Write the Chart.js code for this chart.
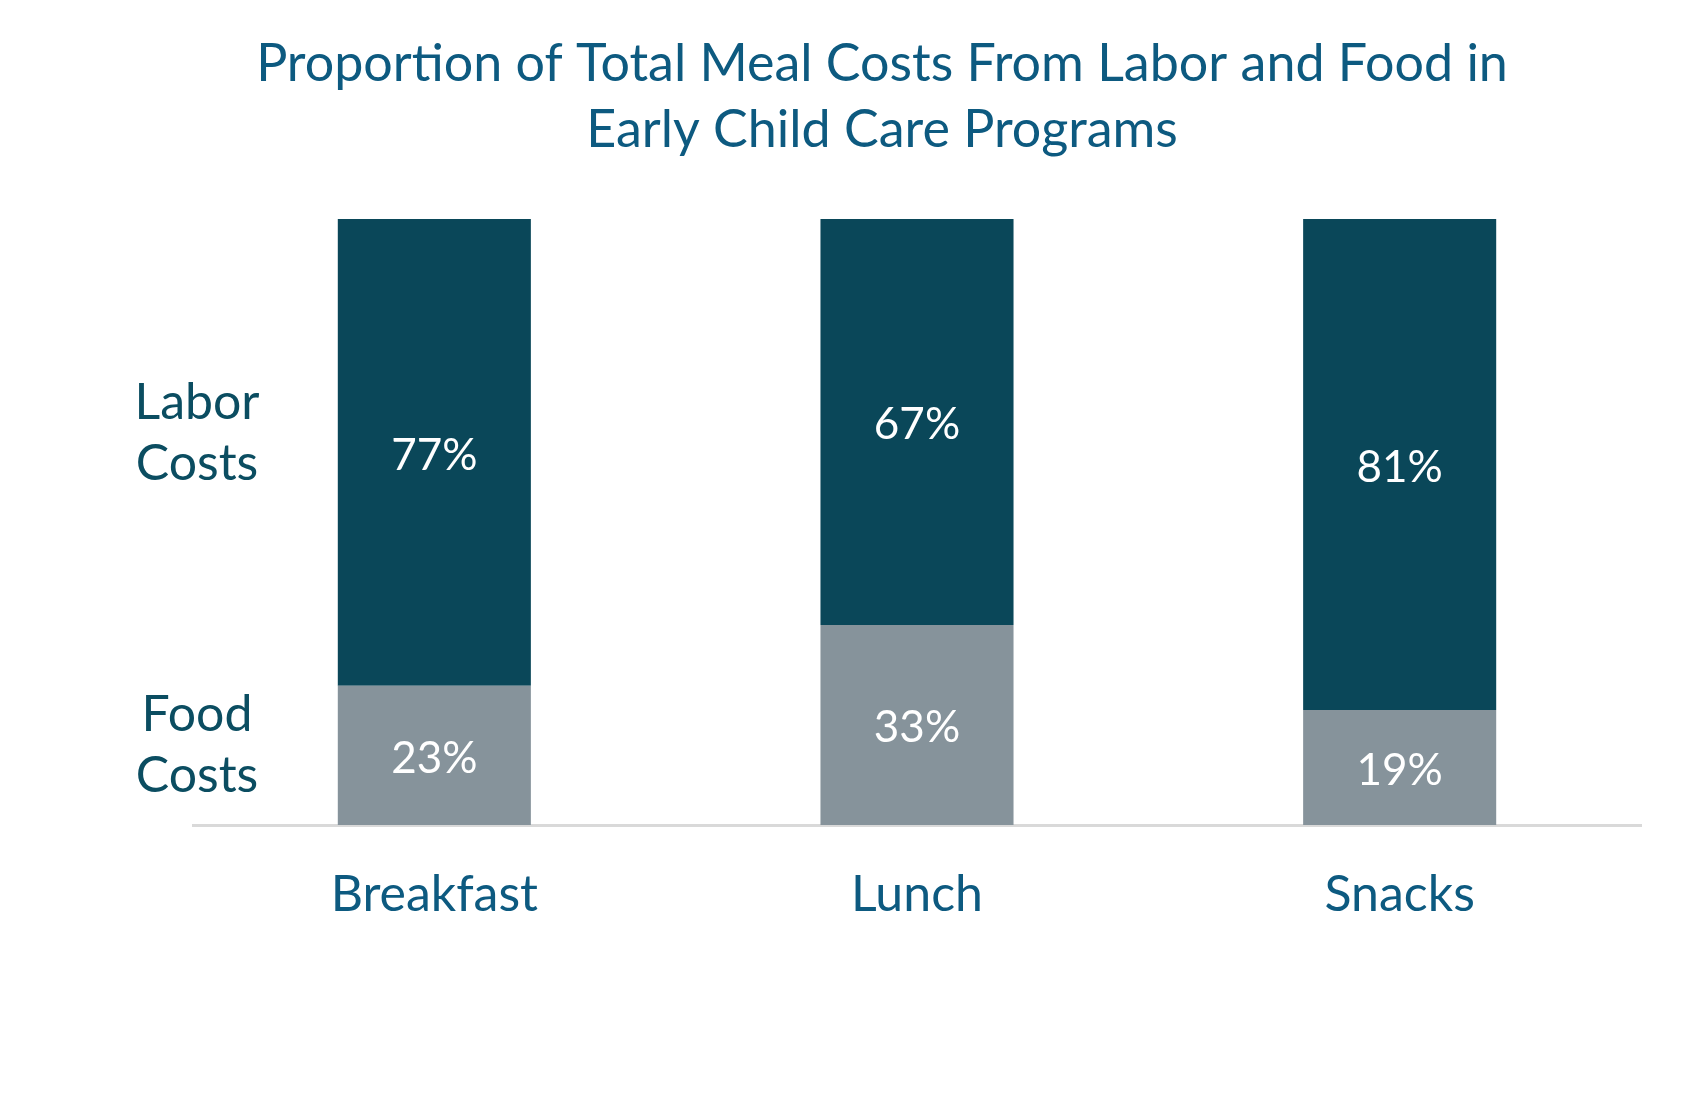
<!DOCTYPE html>
<html>
<head>
<meta charset="utf-8">
<title>Meal costs</title>
<script src="https://cdn.jsdelivr.net/npm/chart.js@4.4.1/dist/chart.umd.min.js"></script>
<style>
  html, body { margin: 0; padding: 0; background: #ffffff; }
  #wrap { width: 1705px; height: 1094px; position: relative; }
</style>
</head>
<body>
<div id="wrap"><canvas id="chart-meals"></canvas></div>
<script>
// chart data
const meals = ['Breakfast', 'Lunch', 'Snacks'];
const foodShare = [23, 33, 19];
const laborShare = [77, 67, 81];
const seriesNames = [['Food', 'Costs'], ['Labor', 'Costs']];

const FONT = 'Lato, "Open Sans", sans-serif';

// white % labels inside each segment + the two series names on the left
const segmentLabels = {
  id: 'segmentLabels',
  afterDatasetsDraw(chart) {
    const ctx = chart.ctx;
    const area = chart.chartArea;
    ctx.save();
    ctx.textAlign = 'center';
    ctx.textBaseline = 'middle';
    ctx.font = '44px ' + FONT;
    ctx.fillStyle = '#ffffff';
    chart.data.datasets.forEach(function(ds, di) {
      const meta = chart.getDatasetMeta(di);
      meta.data.forEach(function(bar, i) {
        const mid = (bar.y + bar.base) / 2 + 3;
        ctx.fillText(ds.data[i] + '%', bar.x, mid);
      });
    });

    ctx.font = '50px ' + FONT;
    ctx.fillStyle = '#0b4d61';
    ctx.textBaseline = 'alphabetic';
    // labor block centred ~211px under the top, food ~81px above the axis
    const labor = seriesNames[1], food = seriesNames[0];
    ctx.fillText(labor[0], 197, area.top + 200);
    ctx.fillText(labor[1], 197, area.top + 261);
    ctx.fillText(food[0], 197, area.bottom - 94);
    ctx.fillText(food[1], 197, area.bottom - 33);
    ctx.restore();
  }
};

new Chart(document.getElementById('chart-meals'), {
  type: 'bar',
  data: {
    labels: meals,
    datasets: [{
      label: 'Food Costs',
      data: foodShare,
      backgroundColor: '#86939b',
      barPercentage: 0.4,
      categoryPercentage: 1
    }, {
      label: 'Labor Costs',
      data: laborShare,
      backgroundColor: '#0a4759',
      barPercentage: 0.4,
      categoryPercentage: 1
    }]
  },
  options: {
    responsive: true,
    maintainAspectRatio: false,
    animation: false,
    layout: {
      padding: { left: 123, right: 64, top: 0, bottom: 129 }
    },
    plugins: {
      legend: { display: false },
      tooltip: { enabled: false },
      title: {
        display: true,
        text: ['Proportion of Total Meal Costs From Labor and Food in', 'Early Child Care Programs'],
        color: '#0d5a80',
        font: { family: FONT, size: 52, weight: 'normal', lineHeight: 1.27 },
        padding: { top: 31, bottom: 56 }
      }
    },
    scales: {
      x: {
        stacked: true,
        grid: { display: false, drawTicks: false },
        border: { display: true, color: '#d9d9d9', width: 3 },
        ticks: {
          color: '#0d5a80',
          font: { family: FONT, size: 50 },
          padding: 40
        }
      },
      y: {
        stacked: true,
        min: 0,
        max: 100,
        grid: { display: false, drawTicks: false },
        border: { display: false },
        ticks: { display: false },
        afterFit: function(scale) { scale.width = 70; }
      }
    }
  },
  plugins: [segmentLabels]
});
</script>
</body>
</html>
